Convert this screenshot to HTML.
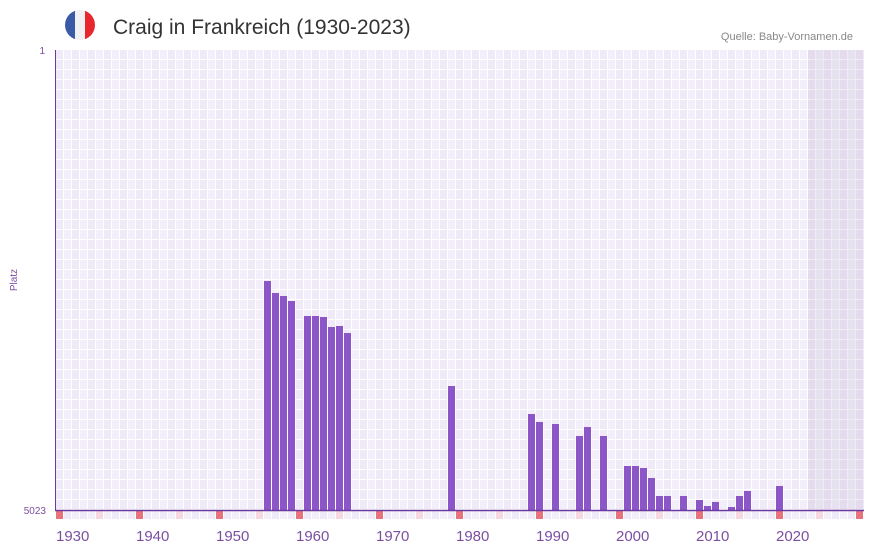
<!DOCTYPE html>
<html><head><meta charset="utf-8"><style>
body{margin:0;background:#fff;font-family:"Liberation Sans",sans-serif;}
</style></head><body>
<svg width="873" height="552" xmlns="http://www.w3.org/2000/svg" font-family="Liberation Sans, sans-serif">
<defs>
<pattern id="g" x="56" y="50" width="16" height="10" patternUnits="userSpaceOnUse">
<rect width="16" height="10" fill="#fff"/>
<rect x="0" y="0" width="7" height="9" fill="#efe9f8"/>
<rect x="8" y="0" width="7" height="9" fill="#f3effa"/>
</pattern>
<pattern id="m" x="56" y="511" width="16" height="9" patternUnits="userSpaceOnUse">
<rect width="16" height="9" fill="#fff"/>
<rect x="0" y="0" width="7" height="8" fill="#f3effa"/>
<rect x="8" y="0" width="7" height="8" fill="#efe9f8"/>
</pattern>
<clipPath id="c"><circle cx="80" cy="25" r="15"/></clipPath>
</defs>
<g clip-path="url(#c)">
<rect x="65" y="10" width="10" height="30" fill="#3a5aa8"/>
<rect x="75" y="10" width="10" height="30" fill="#f1f1f4"/>
<rect x="85" y="10" width="10" height="30" fill="#e8262e"/>
</g>
<text x="113" y="34" font-size="21" fill="#333">Craig in Frankreich (1930-2023)</text>
<text x="853" y="40" font-size="11" fill="#888" text-anchor="end">Quelle: Baby-Vornamen.de</text>
<rect x="56" y="50" width="808" height="460" fill="url(#g)"/>
<rect x="808" y="50" width="56" height="460" fill="#c9c0d8" opacity="0.3"/>
<rect x="56" y="511" width="808" height="9" fill="url(#m)"/>
<g fill="#e8737c">
<rect x="56" y="511" width="7" height="8"/><rect x="136" y="511" width="7" height="8"/><rect x="216" y="511" width="7" height="8"/><rect x="296" y="511" width="7" height="8"/><rect x="376" y="511" width="7" height="8"/><rect x="456" y="511" width="7" height="8"/><rect x="536" y="511" width="7" height="8"/><rect x="616" y="511" width="7" height="8"/><rect x="696" y="511" width="7" height="8"/><rect x="776" y="511" width="7" height="8"/><rect x="856" y="511" width="7" height="8"/>
</g>
<g fill="#f5d8e0">
<rect x="96" y="511" width="7" height="8"/><rect x="176" y="511" width="7" height="8"/><rect x="256" y="511" width="7" height="8"/><rect x="336" y="511" width="7" height="8"/><rect x="416" y="511" width="7" height="8"/><rect x="496" y="511" width="7" height="8"/><rect x="576" y="511" width="7" height="8"/><rect x="656" y="511" width="7" height="8"/><rect x="736" y="511" width="7" height="8"/><rect x="816" y="511" width="7" height="8"/>
</g>
<g fill="#8c55c8">
<rect x="264" y="281" width="7" height="229"/><rect x="272" y="293" width="7" height="217"/><rect x="280" y="296" width="7" height="214"/><rect x="288" y="301" width="7" height="209"/>
<rect x="304" y="316" width="7" height="194"/><rect x="312" y="316" width="7" height="194"/><rect x="320" y="317" width="7" height="193"/><rect x="328" y="327" width="7" height="183"/><rect x="336" y="326" width="7" height="184"/><rect x="344" y="333" width="7" height="177"/>
<rect x="448" y="386" width="7" height="124"/>
<rect x="528" y="414" width="7" height="96"/><rect x="536" y="422" width="7" height="88"/><rect x="552" y="424" width="7" height="86"/>
<rect x="576" y="436" width="7" height="74"/><rect x="584" y="427" width="7" height="83"/><rect x="600" y="436" width="7" height="74"/>
<rect x="624" y="466" width="7" height="44"/><rect x="632" y="466" width="7" height="44"/><rect x="640" y="468" width="7" height="42"/><rect x="648" y="478" width="7" height="32"/><rect x="656" y="496" width="7" height="14"/><rect x="664" y="496" width="7" height="14"/><rect x="680" y="496" width="7" height="14"/>
<rect x="696" y="500" width="7" height="10"/><rect x="704" y="506" width="7" height="4"/><rect x="712" y="502" width="7" height="8"/><rect x="728" y="507" width="7" height="3"/><rect x="736" y="496" width="7" height="14"/><rect x="744" y="491" width="7" height="19"/><rect x="776" y="486" width="7" height="24"/>
</g>
<line x1="55.5" y1="50" x2="55.5" y2="511" stroke="#6a3aa0" stroke-width="1"/>
<line x1="55" y1="510.5" x2="864" y2="510.5" stroke="#6a3aa0" stroke-width="1.5"/>
<text x="45" y="54" font-size="10" fill="#7b4fa0" text-anchor="end">1</text>
<text x="46" y="514" font-size="10" fill="#7b4fa0" text-anchor="end">5023</text>
<text transform="translate(17,280) rotate(-90)" font-size="10" fill="#7b4fa0" text-anchor="middle">Platz</text>
<g font-size="15" fill="#7b4fa0">
<text x="56" y="541">1930</text><text x="136" y="541">1940</text><text x="216" y="541">1950</text><text x="296" y="541">1960</text><text x="376" y="541">1970</text><text x="456" y="541">1980</text><text x="536" y="541">1990</text><text x="616" y="541">2000</text><text x="696" y="541">2010</text><text x="776" y="541">2020</text>
</g>
</svg>
</body></html>
